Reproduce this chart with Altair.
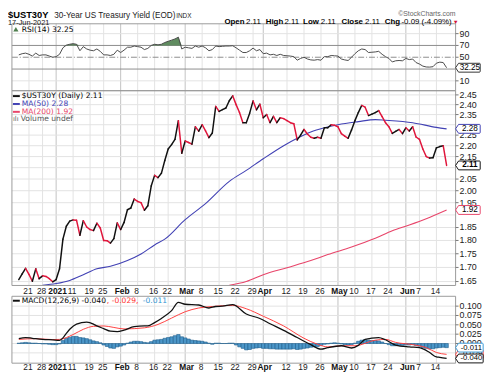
import altair as alt
import pandas as pd

# ---------------- data (trading-day index: 0 = 16-Dec-2020 ... 126 = 17-Jun-2021) -------------
close = [1.657, 1.677, 1.697, 1.675, 1.651, 1.695, 1.660, 1.670, 1.668, 1.660,
         1.649, 1.657, 1.695, 1.805, 1.855, 1.875, 1.880, 1.879, 1.820, 1.877,
         1.852, 1.842, 1.838, 1.867, 1.848, 1.800, 1.799, 1.790, 1.807, 1.868,
         1.842, 1.870, 1.921, 1.928, 1.965, 1.955, 1.950, 1.919, 1.937, 2.020,
         2.066, 2.056, 2.075, 2.132, 2.185, 2.205, 2.230, 2.320, 2.165, 2.222,
         2.215, 2.207, 2.290, 2.269, 2.300, 2.270, 2.238, 2.260, 2.391, 2.366,
         2.375, 2.383, 2.420, 2.445, 2.400, 2.360, 2.310, 2.310, 2.357, 2.419,
         2.374, 2.402, 2.334, 2.350, 2.310, 2.341, 2.310, 2.334, 2.330, 2.320,
         2.310, 2.305, 2.227, 2.250, 2.277, 2.255, 2.240, 2.235, 2.240, 2.235,
         2.285, 2.285, 2.300, 2.297, 2.290, 2.257, 2.245, 2.235, 2.275, 2.320,
         2.360, 2.396, 2.387, 2.345, 2.352, 2.360, 2.370, 2.340, 2.310, 2.290,
         2.258, 2.268, 2.277, 2.257, 2.285, 2.270, 2.290, 2.241, 2.230, 2.185,
         2.150, 2.143, 2.145, 2.190, 2.196, 2.200, 2.110]

rsi = [54, 56, 57, 55, 52, 57, 53, 54, 54, 52,
       50, 51, 55, 66, 70.5, 72, 73, 72, 61, 68,
       64, 62, 61, 64, 60, 54, 54, 53, 55, 62,
       58, 62, 67, 67, 69, 68, 67, 63, 65, 70,
       72, 71, 72, 75, 77, 79, 81, 84, 64, 67,
       66, 65, 69, 67, 69, 66, 61, 63, 69, 68,
       68.5, 69, 69, 69.5, 66, 62, 58, 58, 61, 65.5,
       61, 63, 56, 57, 54, 55, 53, 55, 53, 52.5,
       52, 51, 45, 48, 50, 47, 45.5, 45, 46, 45,
       51, 51, 53, 52.5, 52, 47, 45.5, 44.5, 50, 56,
       61, 64, 63, 58, 58.5, 59, 60, 55, 51, 48,
       42, 44, 44.5, 44, 48, 46, 47, 41, 38.5, 35,
       33.5, 33.3, 34, 40, 41.7, 41, 32.25]

ma50_idx = [7, 11, 15, 19, 23, 27, 32, 36, 40, 43, 49, 55, 62, 67, 72, 78, 82, 86, 90, 94,
            100, 105, 108, 116, 123, 126]
ma50_val = [1.637, 1.643, 1.654, 1.674, 1.695, 1.704, 1.725, 1.749, 1.783, 1.805, 1.881, 1.946,
            2.040, 2.088, 2.140, 2.200, 2.235, 2.265, 2.285, 2.300, 2.315, 2.325, 2.322, 2.310,
            2.287, 2.280]

ma200_idx = [62, 67, 72, 79, 86, 91, 98, 105, 110, 115, 120, 126]
ma200_val = [1.637, 1.650, 1.674, 1.699, 1.725, 1.747, 1.775, 1.808, 1.837, 1.860, 1.885, 1.920]

macd_idx = [0, 2, 4, 7, 10, 12, 13, 14, 15, 17, 20, 22, 23, 25, 27, 29, 31, 34, 37, 38, 40, 42,
            45, 47, 49, 53, 56, 58, 60, 63, 67, 71, 74, 78, 82, 86, 89, 91, 95, 98, 100, 102,
            106, 108, 111, 115, 118, 121, 123, 124, 126]
macd_val = [0.013, 0.016, 0.014, 0.011, 0.0097, 0.0087, 0.015, 0.027, 0.038, 0.052, 0.057, 0.052,
            0.047, 0.040, 0.033, 0.032, 0.036, 0.045, 0.047, 0.047, 0.056, 0.067, 0.088, 0.110,
            0.105, 0.103, 0.095, 0.099, 0.100, 0.104, 0.079, 0.067, 0.053, 0.035, 0.016, -0.003,
            -0.015, -0.011, -0.006, -0.012, -0.005, 0.011, 0.016, 0.010, -0.004, -0.009, -0.011,
            -0.024, -0.036, -0.037, -0.040]

sig_idx = [0, 5, 10, 12, 16, 19, 22, 25, 28, 31, 37, 41, 45, 49, 53, 57, 63, 67, 72, 78, 84, 88,
           91, 95, 99, 105, 108, 111, 116, 120, 123, 126]
sig_val = [0.011, 0.013, 0.0105, 0.011, 0.024, 0.038, 0.046, 0.047, 0.043, 0.039, 0.042, 0.051,
           0.068, 0.085, 0.095, 0.099, 0.102, 0.093, 0.073, 0.047, 0.014, -0.002, -0.009, -0.006,
           -0.006, 0.009, 0.011, 0.003, -0.003, -0.011, -0.024, -0.029]

hist = [0.001, 0.002, 0.003, 0.002, 0.001, 0.001, 0.000, -0.001, -0.001, -0.002,
        -0.003, -0.003, -0.001, 0.008, 0.014, 0.017, 0.019, 0.019, 0.016, 0.015,
        0.013, 0.010, 0.007, 0.005, 0.002, -0.004, -0.008, -0.012, -0.013, -0.009,
        -0.007, -0.004, 0.001, 0.004, 0.006, 0.006, 0.005, 0.003, 0.002, 0.005,
        0.009, 0.010, 0.011, 0.014, 0.016, 0.018, 0.021, 0.024, 0.018, 0.015,
        0.012, 0.009, 0.008, 0.007, 0.006, 0.004, 0.001, -0.002, 0.001, 0.001,
        0.000, 0.000, 0.001, 0.001, -0.004, -0.009, -0.013, -0.017, -0.016, -0.013,
        -0.012, -0.011, -0.013, -0.013, -0.014, -0.014, -0.015, -0.015, -0.015, -0.015,
        -0.015, -0.014, -0.016, -0.015, -0.013, -0.012, -0.010, -0.009, -0.008, -0.005,
        -0.002, -0.001, 0.001, 0.002, 0.001, -0.001, -0.003, -0.004, -0.003, 0.001,
        0.006, 0.009, 0.010, 0.009, 0.008, 0.008, 0.007, 0.004, 0.000, -0.003,
        -0.006, -0.006, -0.005, -0.005, -0.004, -0.004, -0.003, -0.005, -0.007, -0.011,
        -0.013, -0.014, -0.014, -0.012, -0.011, -0.010, -0.011]

minor_idx = [3, 7, 16, 21, 25, 35, 40, 44, 54, 59, 64, 69, 79, 84, 89, 99, 104, 109, 118, 123]
minor_lbl = ["21", "28", "11", "19", "25", "8", "16", "22", "8", "15", "22", "29", "12", "19",
             "26", "10", "17", "24", "7", "14"]
major_idx = [11, 30, 49, 72, 94, 114]
major_lbl = ["2021", "Feb", "Mar", "Apr", "May", "Jun"]

# grid levels and the tick labels that are not hidden behind value tags
rsi_grid_levels = [90, 70, 50, 30, 10]
rsi_ticks = [90, 70, 50, 10]
price_grid_levels = [2.45, 2.40, 2.35, 2.30, 2.25, 2.20, 2.15, 2.10, 2.05, 2.00, 1.95, 1.90,
                     1.85, 1.80, 1.75, 1.70, 1.65]
price_ticks = [2.45, 2.40, 2.35, 2.25, 2.20, 2.15, 2.05, 2.00, 1.95, 1.85, 1.80, 1.75, 1.70, 1.65]
macd_grid_levels = [0.100, 0.075, 0.050, 0.025, 0.000, -0.025]
macd_ticks = [0.100, 0.075, 0.050, 0.025, 0.000]

# ---------------- scales (svg coordinates; page = svg + 8) ----------------
XS = alt.Scale(domain=[-0.57, 127.2], range=[4, 455], nice=False, zero=False)
RSI_S = alt.Scale(domain=[-6.67, 106.67], range=[81, 13], nice=False, zero=False)
PX_S = alt.Scale(type="log", domain=[1.6363, 2.4719], range=[279, 81], nice=False)
MACD_S = alt.Scale(domain=[-0.0526, 0.1263], range=[358, 290], nice=False, zero=False)

FONT = "Liberation Sans"
LFONT = "DejaVu Sans"


def X(f="idx"):
    return alt.X(f"{f}:Q", scale=XS, axis=None)


def Y(f, s):
    return alt.Y(f"{f}:Q", scale=s, axis=None)


def txt(s, x, y, size=8, color="#000", weight="normal", align="left", font=FONT,
        baseline="middle"):
    return alt.Chart(pd.DataFrame({"t": [s]})).mark_text(
        align=align, baseline=baseline, fontSize=size, font=font, fontWeight=weight,
        color=color).encode(x=alt.value(x), y=alt.value(y), text="t:N")


def tag_path(w, h=9, tip=3):
    hu = h / w
    tu = 2 * tip / w
    return (f"M-1,0 L{-1 + tu:.3f},{-hu:.3f} L0.94,{-hu:.3f} Q1,{-hu:.3f} 1,{-hu + 0.06:.3f} "
            f"L1,{hu - 0.06:.3f} Q1,{hu:.3f} 0.94,{hu:.3f} L{-1 + tu:.3f},{hu:.3f} Z")


def tag(value, label, scale, color, w=25, bold=False, size=8.3):
    df = pd.DataFrame({"v": [value], "t": [label]})
    base = alt.Chart(df)
    shp = base.mark_point(shape=tag_path(w), size=w * w, filled=True, fill="white",
                          stroke=color, strokeWidth=1, opacity=1, fillOpacity=1).encode(
        x=alt.value(455 + w / 2), y=Y("v", scale))
    t = base.mark_text(align="center", baseline="middle", fontSize=size, font=FONT,
                       fontWeight="bold" if bold else "normal", color="#000").encode(
        x=alt.value(457 + w / 2), y=Y("v", scale), text="t:N")
    return [shp, t]


L = []

# ---------------- grids ----------------
minor_df = pd.DataFrame({"idx": minor_idx, "lbl": minor_lbl})
major_df = pd.DataFrame({"idx": major_idx, "lbl": major_lbl})
for y0, y1 in [(13, 279), (290, 358)]:
    L.append(alt.Chart(minor_df).mark_rule(color="#e2e2e2", strokeWidth=1).encode(
        x=X(), y=alt.value(y0), y2=alt.value(y1)))
    L.append(alt.Chart(major_df).mark_rule(color="#c2c2c2", strokeWidth=1).encode(
        x=X(), y=alt.value(y0), y2=alt.value(y1)))

L.append(alt.Chart(pd.DataFrame({"v": [90, 10]})).mark_rule(color="#e2e2e2").encode(
    y=Y("v", RSI_S), x=alt.value(4), x2=alt.value(455)))
L.append(alt.Chart(pd.DataFrame({"v": [70, 30]})).mark_rule(color="#8c8c8c").encode(
    y=Y("v", RSI_S), x=alt.value(4), x2=alt.value(455)))
L.append(alt.Chart(pd.DataFrame({"v": [50]})).mark_rule(color="#8c8c8c", strokeDash=[6, 2, 1, 2]).encode(
    y=Y("v", RSI_S), x=alt.value(4), x2=alt.value(455)))

L.append(alt.Chart(pd.DataFrame({"v": price_grid_levels})).mark_rule(color="#e2e2e2").encode(
    y=Y("v", PX_S), x=alt.value(4), x2=alt.value(455)))
L.append(alt.Chart(pd.DataFrame({"v": macd_grid_levels})).mark_rule(color="#e2e2e2").encode(
    y=Y("v", MACD_S), x=alt.value(4), x2=alt.value(455)))

# ---------------- RSI panel ----------------
rsi_df = pd.DataFrame({"idx": list(range(len(rsi))), "r": rsi})
L.append(alt.Chart(rsi_df).transform_calculate(top="max(datum.r, 70)").mark_area(
    color="#4f7f4f", opacity=0.9).encode(x=X(), y=Y("top", RSI_S), y2=alt.datum(70)))
L.append(alt.Chart(rsi_df).mark_line(color="#4a4a4a", strokeWidth=1).encode(
    x=X(), y=Y("r", RSI_S)))

# ---------------- price panel ----------------
rows = []
for i in range(1, len(close)):
    d = "up" if close[i] >= close[i - 1] else "down"
    rows.append({"seg": i, "idx": i - 1, "v": close[i - 1], "dir": d})
    rows.append({"seg": i, "idx": i, "v": close[i], "dir": d})
seg_df = pd.DataFrame(rows)

ma50_df = pd.DataFrame({"idx": ma50_idx, "v": ma50_val})
ma200_df = pd.DataFrame({"idx": ma200_idx, "v": ma200_val})
L.append(alt.Chart(ma200_df).mark_line(color="#e8456a", strokeWidth=1.1, interpolate="monotone").encode(
    x=X(), y=Y("v", PX_S)))
L.append(alt.Chart(ma50_df).mark_line(color="#4141b4", strokeWidth=1.1, interpolate="monotone").encode(
    x=X(), y=Y("v", PX_S)))
L.append(alt.Chart(seg_df).mark_line(strokeWidth=1.5, strokeCap="round").encode(
    x=X(), y=Y("v", PX_S), detail="seg:N",
    color=alt.Color("dir:N", scale=alt.Scale(domain=["up", "down"], range=["#111111", "#e0163c"]),
                    legend=None)))

# ---------------- MACD panel ----------------
hist_df = pd.DataFrame({"idx": list(range(len(hist))), "h": hist})
L.append(alt.Chart(hist_df).mark_bar(size=3.5, fill="#4b96c8", stroke="#1f5d8c", strokeWidth=0.6).encode(
    x=X(), y=Y("h", MACD_S), y2=alt.datum(0)))
sig_df = pd.DataFrame({"idx": sig_idx, "v": sig_val})
macd_df = pd.DataFrame({"idx": macd_idx, "v": macd_val})
L.append(alt.Chart(sig_df).mark_line(color="#ff4040", strokeWidth=1, interpolate="monotone").encode(
    x=X(), y=Y("v", MACD_S)))
L.append(alt.Chart(macd_df).mark_line(color="#111111", strokeWidth=1.3, interpolate="monotone").encode(
    x=X(), y=Y("v", MACD_S)))

# ---------------- panel frames ----------------
for y0, y1 in [(13, 81), (81, 279), (290, 358)]:
    L.append(alt.Chart(pd.DataFrame({"a": [0]})).mark_rect(fillOpacity=0, stroke="#9a9a9a", strokeWidth=1).encode(
        x=alt.value(4), x2=alt.value(455), y=alt.value(y0), y2=alt.value(y1)))

# ---------------- right axis labels and ticks ----------------
for ticks, sc, fmt in [(rsi_ticks, RSI_S, "d"), (price_ticks, PX_S, ".2f"), (macd_ticks, MACD_S, ".3f")]:
    tdf = pd.DataFrame({"v": ticks})
    L.append(alt.Chart(tdf).mark_rule(color="#777").encode(
        y=Y("v", sc), x=alt.value(455), x2=alt.value(458)))
    L.append(alt.Chart(tdf).mark_text(align="left", baseline="middle", fontSize=9, font=FONT,
                                       color="#222").encode(
        x=alt.value(459), y=Y("v", sc), text=alt.Text("v:Q", format=fmt)))

# ---------------- bottom date labels ----------------
for yy in [285, 362]:
    L.append(alt.Chart(minor_df).mark_text(baseline="middle", align="center", fontSize=8.5, font=FONT,
                                           dx=-1, color="#222").encode(x=X(), y=alt.value(yy), text="lbl:N"))
    L.append(alt.Chart(major_df).mark_text(baseline="middle", align="center", fontSize=8.5, font=FONT,
                                           dx=1.5, fontWeight="bold", color="#111").encode(
        x=X(), y=alt.value(yy), text="lbl:N"))

# ---------------- value tags ----------------
L += tag(rsi[-1], f"{rsi[-1]:.2f}", RSI_S, "#333333")
L += tag(ma50_val[-1], f"{ma50_val[-1]:.2f}", PX_S, "#4141b4")
L += tag(ma200_val[-1], f"{ma200_val[-1]:.2f}", PX_S, "#e8456a")
L += tag(close[-1], f"{close[-1]:.2f}", PX_S, "#111111", bold=True)
L += tag(sig_val[-1], f"{sig_val[-1]:.3f}", MACD_S, "#ff4040", w=28, size=7.8)
L += tag(hist[-1], f"{hist[-1]:.3f}", MACD_S, "#3a9ad6", w=28, size=7.8)
L += tag(macd_val[-1], f"{macd_val[-1]:.3f}", MACD_S, "#111111", w=28, size=7.8)

# ---------------- legends ----------------
L.append(alt.Chart(pd.DataFrame({"a": [0]})).mark_point(shape="triangle-up", size=28, filled=True,
                                                        color="#4f7f4f", opacity=1).encode(
    x=alt.value(8), y=alt.value(18.5)))
L.append(txt(f"RSI(14) {rsi[-1]:.2f}", 14, 19, size=7.7, font=LFONT))

leg = [(f"$UST30Y (Daily) {close[-1]:.2f}", "#111111", 86.5),
       (f"MA(50) {ma50_val[-1]:.2f}", "#4141b4", 94.5),
       (f"MA(200) {ma200_val[-1]:.2f}", "#e8456a", 102.5)]
for s, c, yy in leg:
    L.append(alt.Chart(pd.DataFrame({"a": [0]})).mark_rule(color=c, strokeWidth=2).encode(
        x=alt.value(5), x2=alt.value(12), y=alt.value(yy)))
    L.append(txt(s, 14, yy, size=7.7, font=LFONT, color=c if c != "#111111" else "#000"))
L.append(txt("ılı", 5, 110, size=7, font=LFONT, color="#666"))
L.append(txt("Volume undef", 13, 110, size=7.7, font=LFONT, color="#555"))

L.append(alt.Chart(pd.DataFrame({"a": [0]})).mark_rule(color="#111", strokeWidth=2).encode(
    x=alt.value(5), x2=alt.value(12), y=alt.value(294.5)))
L.append(txt(f"MACD(12,26,9) {macd_val[-1]:.3f}", 14, 294.5, size=7.7, font=LFONT))
L.append(txt(f", {sig_val[-1]:.3f},", 100.5, 294.5, size=7.7, font=LFONT, color="#ff3030"))
L.append(txt(f"{hist[-1]:.3f}", 137, 294.5, size=7.7, font=LFONT, color="#2f95d2"))

# ---------------- header ----------------
chg = close[-1] - close[-2]
pct = chg / close[-2] * 100
L.append(txt("$UST30Y", 0, 7.5, size=9.5, weight="bold", baseline="alphabetic"))
L.append(txt("30-Year US Treasury Yield (EOD)", 47, 7.5, size=8.3, baseline="alphabetic", color="#222"))
L.append(txt("INDX", 171, 7.5, size=6.5, baseline="alphabetic", color="#222"))
L.append(txt("17-Jun-2021", 0, 14.5, size=7.5, baseline="alphabetic", color="#222"))
L.append(txt("©StockCharts.com", 455, 5.5, size=7, align="right", baseline="alphabetic", color="#666"))
hdr = [("Open", 220, "bold"), (f"{close[-1]:.2f}", 242, "normal"),
       ("High", 262, "bold"), (f"{close[-1]:.2f}", 281, "normal"),
       ("Low", 300, "bold"), (f"{close[-1]:.2f}", 318, "normal"),
       ("Close", 339, "bold"), (f"{close[-1]:.2f}", 363, "normal"),
       ("Chg", 383, "bold"), (f"{chg:.2f} ({pct:.2f}%)", 400, "normal")]
for s, xx, w in hdr:
    L.append(txt(s, xx, 13.5, size=8, weight=w, baseline="alphabetic"))
L.append(txt("▼", 452, 13, size=6, baseline="alphabetic", color="#d0103a"))

chart = alt.layer(*L).resolve_scale(y="independent").properties(
    width=492, height=370, padding=0,
    autosize=alt.AutoSizeParams(type="none")
).configure_view(strokeWidth=0)

chart.save("out.html", embed_options={"renderer": "svg", "actions": False})
